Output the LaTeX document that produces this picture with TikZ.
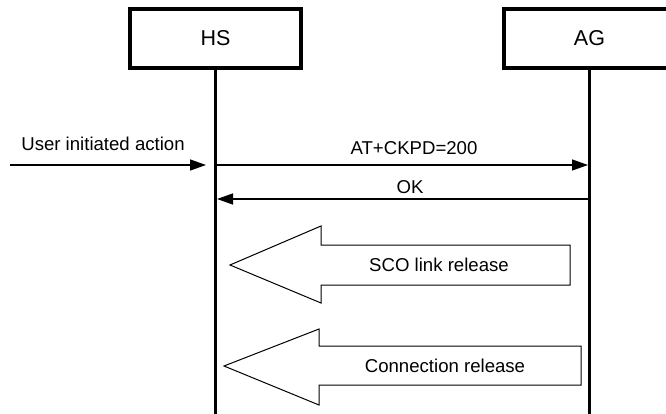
\documentclass[tikz,border=0pt]{standalone}
\usepackage{fontspec}
\setmainfont{Liberation Sans}
\usetikzlibrary{positioning,arrows.meta,calc}

\begin{document}
\begin{tikzpicture}[x=1pt,y=-1pt,
  every node/.style={font=\fontsize{18.6}{22}\selectfont},
  entity/.style={draw,line width=3.3pt,minimum width=171pt,minimum height=59pt,
    font=\fontsize{21.5}{25}\selectfont},
  lifeline/.style={line width=3pt},
  msg/.style={line width=1.3pt,-{Triangle[length=16pt,width=11pt]}},
  blockarrow/.style={line width=1pt,line join=miter}]
  \useasboundingbox (0,0) rectangle (666,414);
  % entities and lifelines
  \node[entity] (hs) at (215.5,38.5) {HS};
  \node[entity] (ag) at (589.5,38.5) {AG};
  \coordinate (bottom) at (0,414);
  \draw[lifeline] (hs.south) -- (hs |- bottom);
  \draw[lifeline] (ag.south) -- (ag |- bottom);
  % messages
  \coordinate (user) at (10,165);
  \coordinate (userend) at (206,165);
  \coordinate (ok) at (0,199);
  \draw[msg] (user) -- (userend);
  \node (usertxt) at (103,144) {User initiated action};
  \draw[msg,shorten <=1.5pt,shorten >=1.5pt] (hs |- user) -- (ag |- user);
  \node (ckpd) at (414,148) {AT+CKPD=200};
  \draw[msg,shorten <=1.5pt,shorten >=1.5pt] (ag |- ok) -- (hs |- ok);
  \node (oktxt) at (410,187) {OK};
  % block arrows
  \draw[blockarrow] (230,265) -- (321,226) -- (321,245) -- (570,245)
    -- (570,285) -- (321,285) -- (321,303) -- cycle;
  \node (sco) at (439,265) {SCO link release};
  \draw[blockarrow] (224,366) -- (319,329) -- (319,346) -- (581,346)
    -- (581,385) -- (319,385) -- (319,405) -- cycle;
  \node (conn) at (445,366) {Connection release};
\end{tikzpicture}
\end{document}
